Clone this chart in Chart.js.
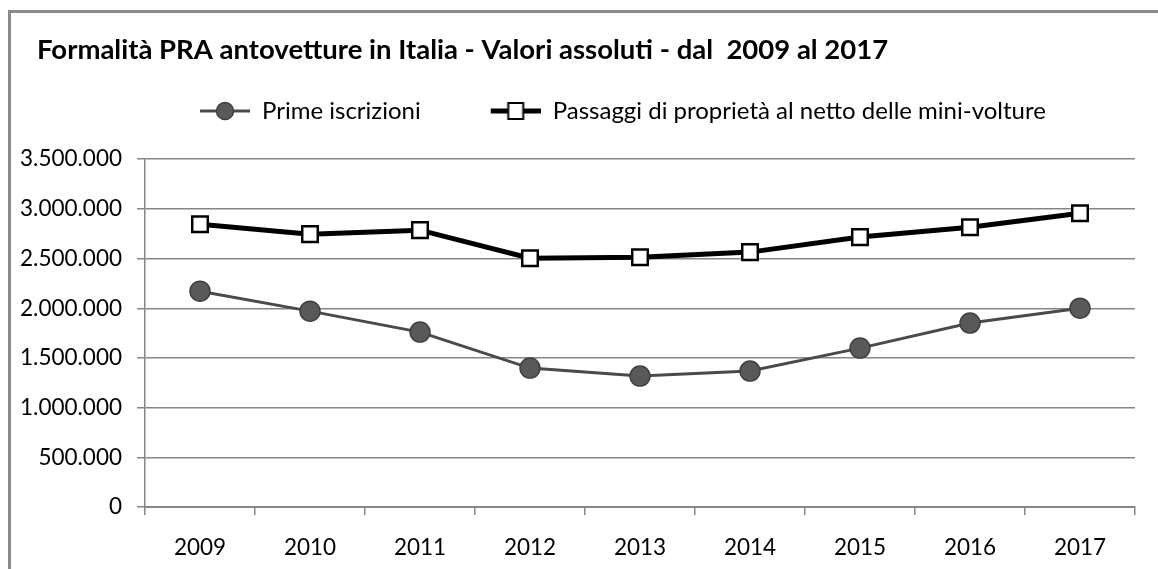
<!DOCTYPE html>
<html>
<head>
<meta charset="utf-8">
<script src="https://cdn.jsdelivr.net/npm/chart.js@4/dist/chart.umd.min.js"></script>
<style>
  body { margin: 0; background: #fff; }
  canvas { display: block; }
</style>
</head>
<body>
<canvas id="chart" width="1158" height="569"></canvas>
<script>
const years = ['2009', '2010', '2011', '2012', '2013', '2014', '2015', '2016', '2017'];
const primeIscrizioni = [2172000, 1971000, 1760000, 1398000, 1318000, 1368000, 1599000, 1851000, 2001000];
const passaggi = [2846000, 2746000, 2786000, 2504000, 2514000, 2565000, 2716000, 2816000, 2957000];
const seriesNames = ['Prime iscrizioni', 'Passaggi di proprietà al netto delle mini-volture'];
const yMax = 3500000;
const yStep = 500000;

const FONT = 'Lato, "Open Sans", sans-serif';

// formats 3500000 -> 3.500.000
function itNumber(v) {
  return String(v).replace(/\B(?=(\d{3})+(?!\d))/g, '.');
}

// legend icons: line with the marker in the middle (Excel style).
// the left 60px are left blank, it gives the gap between the two items
function legendIcon(kind) {
  const c = document.createElement('canvas');
  c.width = 110; c.height = 24;
  const g = c.getContext('2d');
  const x0 = 60, cx = 85;
  if (kind === 'circle') {
    g.strokeStyle = '#4a4a4a'; g.lineWidth = 3;
    g.beginPath(); g.moveTo(x0, 12); g.lineTo(110, 12); g.stroke();
    g.fillStyle = '#595959'; g.strokeStyle = '#404040'; g.lineWidth = 1.5;
    g.beginPath(); g.arc(cx, 12, 8.5, 0, Math.PI * 2); g.fill(); g.stroke();
  } else {
    g.strokeStyle = '#000'; g.lineWidth = 5;
    g.beginPath(); g.moveTo(x0, 12); g.lineTo(110, 12); g.stroke();
    g.fillStyle = '#fff'; g.lineWidth = 2;
    g.fillRect(cx - 7.5, 4, 15, 16); g.strokeRect(cx - 7.5, 4, 15, 16);
  }
  return c;
}
const icons = [legendIcon('circle'), legendIcon('rect')];

const frame = {
  id: 'frame',
  afterLayout(chart) {
    chart.titleBlock.left = 37;
    chart.legend.left = 130;
  },
  beforeDraw(chart) {
    const ctx = chart.ctx;
    ctx.save();
    ctx.fillStyle = '#fff';
    ctx.fillRect(0, 0, chart.width, chart.height);
    ctx.restore();
  },
  afterDraw(chart) {
    const ctx = chart.ctx;
    ctx.save();
    ctx.strokeStyle = '#8a8a8a';
    ctx.lineWidth = 3;
    ctx.beginPath();
    ctx.moveTo(9.5, chart.height);
    ctx.lineTo(9.5, 11.5);
    ctx.lineTo(chart.width, 11.5);
    ctx.stroke();
    ctx.restore();
  }
};

new Chart(document.getElementById('chart'), {
  type: 'line',
  data: {
    labels: years,
    datasets: [{
      label: seriesNames[0],
      data: primeIscrizioni,
      borderColor: '#4a4a4a',
      borderWidth: 3,
      pointStyle: 'circle',
      pointRadius: 10,
      pointBackgroundColor: '#595959',
      pointBorderColor: '#404040',
      pointBorderWidth: 1.5,
      tension: 0
    }, {
      label: seriesNames[1],
      data: passaggi,
      borderColor: '#000',
      borderWidth: 5,
      pointStyle: 'rect',
      pointRadius: 11,
      pointBackgroundColor: '#fff',
      pointBorderColor: '#000',
      pointBorderWidth: 2.5,
      tension: 0
    }]
  },
  options: {
    responsive: false,
    animation: false,
    layout: { padding: { top: 12, left: 10, right: 23, bottom: 0 } },
    plugins: {
      tooltip: { enabled: false },
      title: {
        display: true,
        text: 'Formalità PRA antovetture in Italia - Valori assoluti - dal  2009 al 2017',
        align: 'start',
        color: '#000',
        font: { family: FONT, size: 27.5, weight: 'bold' },
        padding: { top: 22, bottom: 22 }
      },
      // empty spacer between legend and plot
      subtitle: {
        display: true,
        text: ' ',
        weight: 500,
        font: { size: 1 },
        padding: { top: 0, bottom: 25 }
      },
      legend: {
        position: 'top',
        align: 'start',
        labels: {
          color: '#000',
          font: { family: FONT, size: 24 },
          usePointStyle: true,
          pointStyleWidth: 110,
          padding: 10,
          generateLabels(chart) {
            const items = Chart.defaults.plugins.legend.labels.generateLabels(chart);
            items.forEach((it, i) => { it.pointStyle = icons[i]; });
            return items;
          }
        }
      }
    },
    scales: {
      x: {
        type: 'category',
        offset: true,
        afterFit(scale) { scale.height = 62; },
        grid: { offset: true, drawOnChartArea: false, drawTicks: true, tickLength: 8, color: '#868686', lineWidth: 1.5 },
        border: { display: true, color: '#868686', width: 2 },
        ticks: { color: '#000', font: { family: FONT, size: 22.5 }, padding: 19, maxRotation: 0 }
      },
      y: {
        min: 0,
        max: yMax,
        afterFit(scale) { scale.width = 135; },
        grid: { color: '#868686', lineWidth: 1.5, tickLength: 8 },
        border: { display: true, color: '#868686', width: 1.5 },
        ticks: {
          stepSize: yStep,
          color: '#000',
          padding: 15,
          font: { family: FONT, size: 22.5 },
          callback: v => itNumber(v)
        }
      }
    }
  },
  plugins: [frame]
});
</script>
</body>
</html>
